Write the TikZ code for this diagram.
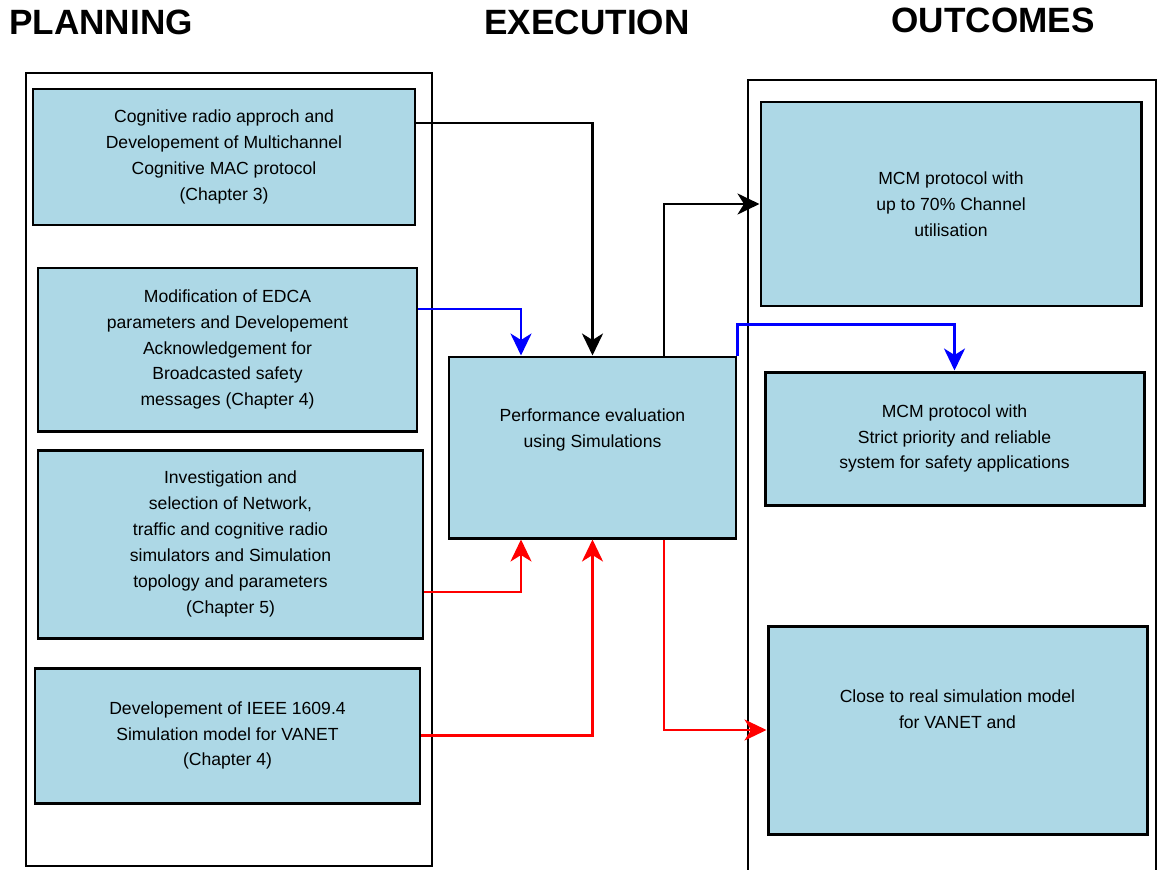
\documentclass[tikz,border=0pt]{standalone}
\usepackage{fontspec}
\setmainfont{Liberation Sans}
\usetikzlibrary{shapes,arrows.meta,calc,positioning}
\definecolor{boxblue}{RGB}{173,216,230}
\tikzset{box/.style={draw, rectangle, line width=1.7pt, fill=boxblue, align=center, inner sep=0pt, font=\fontsize{10}{14.7}\selectfont}}
\tikzset{container/.style={draw, rectangle, line width=1.4pt, inner sep=0pt}}
\tikzset{heading/.style={font=\fontsize{20}{24}\selectfont\bfseries}}
\tikzset{line/.style={draw, line width=1.5pt, -{Stealth[length=0.44cm, width=0.42cm, inset=0.13cm]}}}
\tikzset{blueline/.style={line, color=blue}}
\tikzset{redline/.style={line, color=red}}

\begin{document}
\begin{tikzpicture}

\useasboundingbox (0,0) rectangle (23.14,-17.4);

%HEADINGS
\node [heading] (planhead) at (2.02,-0.44) {PLANNING};
\node [heading] (exechead) at (11.74,-0.44) {EXECUTION};
\node [heading] (outhead) at (19.86,-0.40) {OUTCOMES};

%COLUMNS
\node [container, minimum width=8.12cm, minimum height=15.86cm] (planning) at (4.58,-9.39) {};
\node [container, minimum width=8.16cm, minimum height=16.0cm] (outcomes) at (19.04,-9.6) {};

%PLANNING
\node [box, minimum width=7.64cm, minimum height=2.72cm] (p1) at (4.48,-3.14) {Cognitive radio approch and\\Developement of Multichannel\\Cognitive MAC protocol\\(Chapter 3)};
\node [box, below of=p1, node distance=3.85cm, xshift=0.07cm, minimum width=7.58cm, minimum height=3.26cm] (p2) {Modification of EDCA\\parameters and Developement\\Acknowledgement for\\Broadcasted safety\\messages (Chapter 4)};
\node [box, below of=p2, node distance=3.89cm, xshift=0.06cm, minimum width=7.70cm, minimum height=3.76cm] (p3) {Investigation and\\selection of Network,\\traffic and cognitive radio\\simulators and Simulation\\topology and parameters\\(Chapter 5)};
\node [box, below of=p3, node distance=3.83cm, xshift=-0.06cm, minimum width=7.70cm, minimum height=2.70cm] (p4) {Developement of IEEE 1609.4\\Simulation model for VANET\\(Chapter 4)};

%EXECUTION
\node [box, minimum width=5.74cm, minimum height=3.62cm, text depth=22pt] (exec) at (11.85,-8.95) {Performance evaluation\\using Simulations};

%OUTCOMES
\node [box, minimum width=7.60cm, minimum height=4.08cm] (o1) at (19.02,-4.08) {MCM protocol with\\up to 70\% Channel\\utilisation};
\node [box, below of=o1, node distance=4.69cm, xshift=0.07cm, minimum width=7.58cm, minimum height=2.66cm] (o2) {MCM protocol with\\Strict priority and reliable\\system for safety applications};
\node [box, below of=o2, node distance=5.83cm, xshift=0.06cm, minimum width=7.58cm, minimum height=4.16cm, text depth=24pt] (o3) {Close to real simulation model\\for VANET and};

%PLANNING TO EXECUTION
\path [line] ($(p1.east)+(0,0.68)$) -| (exec.north);
\path [blueline] ($(p2.east)+(0,0.81)$) -| ($(exec.north)+(-1.43,0)$);
\path [redline] ($(p3.east)+(0,-0.96)$) -| ($(exec.south)+(-1.43,0)$);
\path [redline] (p4.east) -| (exec.south);

%EXECUTION TO OUTCOMES
\path [line] ($(exec.north)+(1.43,0)$) |- (o1.west);
\path [blueline] (exec.north east) -- ++(0,0.62) -| (o2.north);
\path [redline] ($(exec.south)+(1.43,0)$) |- (o3.west);

\end{tikzpicture}
\end{document}
